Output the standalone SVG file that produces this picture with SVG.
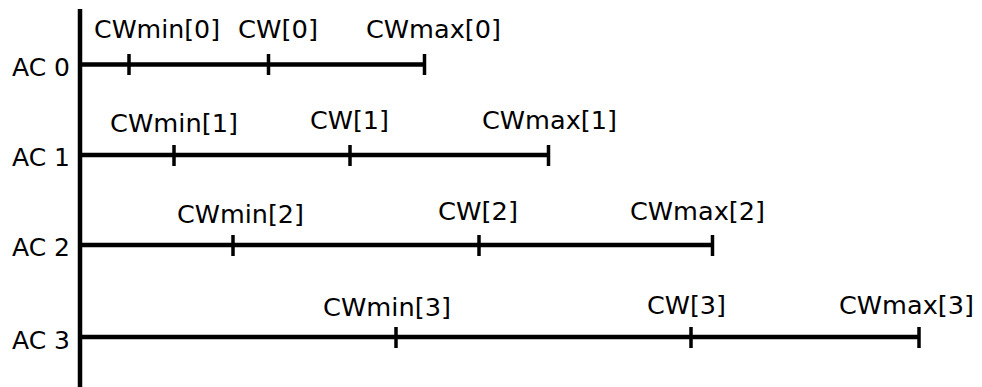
<svg xmlns="http://www.w3.org/2000/svg" width="982" height="387" viewBox="0 0 982 387">
  <style>
    .ln { stroke: #000; stroke-width: 4.5; fill: none; stroke-linecap: butt; }
    .tk { stroke: #000; stroke-width: 3.5; fill: none; }
    text { font-family: "DejaVu Sans", "Liberation Sans", sans-serif; font-size: 24px; fill: #000; }
  </style>
  <rect width="982" height="387" fill="#fff"/>

  <g id="connectors">
    <!-- vertical axis -->
    <line class="ln" x1="80" y1="9" x2="80" y2="387"/>
    <!-- AC 0 -->
    <line class="ln" x1="80" y1="64.5" x2="426" y2="64.5"/>
    <!-- AC 1 -->
    <line class="ln" x1="80" y1="155" x2="550" y2="155"/>
    <!-- AC 2 -->
    <line class="ln" x1="80" y1="245" x2="714" y2="245"/>
    <!-- AC 3 -->
    <line class="ln" x1="80" y1="337" x2="920" y2="337"/>
  </g>

  <g id="ac0">
    <text x="12" y="76" textLength="58" lengthAdjust="spacingAndGlyphs">AC 0</text>
    <line class="tk" x1="129" y1="54" x2="129" y2="75"/>
    <line class="tk" x1="268.5" y1="54" x2="268.5" y2="75"/>
    <line class="tk" x1="424.5" y1="54" x2="424.5" y2="75"/>
    <text x="94" y="38" textLength="126" lengthAdjust="spacingAndGlyphs">CWmin[0]</text>
    <text x="238" y="38" textLength="80" lengthAdjust="spacingAndGlyphs">CW[0]</text>
    <text x="366" y="38" textLength="135" lengthAdjust="spacingAndGlyphs">CWmax[0]</text>
  </g>

  <g id="ac1">
    <text x="12" y="166" textLength="58" lengthAdjust="spacingAndGlyphs">AC 1</text>
    <line class="tk" x1="174" y1="145" x2="174" y2="166"/>
    <line class="tk" x1="350" y1="145" x2="350" y2="166"/>
    <line class="tk" x1="548.5" y1="145" x2="548.5" y2="166"/>
    <text x="110" y="132" textLength="128" lengthAdjust="spacingAndGlyphs">CWmin[1]</text>
    <text x="310" y="129" textLength="79" lengthAdjust="spacingAndGlyphs">CW[1]</text>
    <text x="482" y="129" textLength="135" lengthAdjust="spacingAndGlyphs">CWmax[1]</text>
  </g>

  <g id="ac2">
    <text x="12" y="256" textLength="58" lengthAdjust="spacingAndGlyphs">AC 2</text>
    <line class="tk" x1="233" y1="235" x2="233" y2="256"/>
    <line class="tk" x1="479" y1="235" x2="479" y2="256"/>
    <line class="tk" x1="712.5" y1="235" x2="712.5" y2="256"/>
    <text x="177" y="223" textLength="127" lengthAdjust="spacingAndGlyphs">CWmin[2]</text>
    <text x="438" y="220" textLength="80" lengthAdjust="spacingAndGlyphs">CW[2]</text>
    <text x="630" y="220" textLength="135" lengthAdjust="spacingAndGlyphs">CWmax[2]</text>
  </g>

  <g id="ac3">
    <text x="12" y="349" textLength="58" lengthAdjust="spacingAndGlyphs">AC 3</text>
    <line class="tk" x1="396" y1="327" x2="396" y2="348"/>
    <line class="tk" x1="691" y1="327" x2="691" y2="348"/>
    <line class="tk" x1="919" y1="327" x2="919" y2="348"/>
    <text x="323" y="316" textLength="128" lengthAdjust="spacingAndGlyphs">CWmin[3]</text>
    <text x="647" y="314" textLength="79" lengthAdjust="spacingAndGlyphs">CW[3]</text>
    <text x="839" y="314" textLength="135" lengthAdjust="spacingAndGlyphs">CWmax[3]</text>
  </g>
</svg>
